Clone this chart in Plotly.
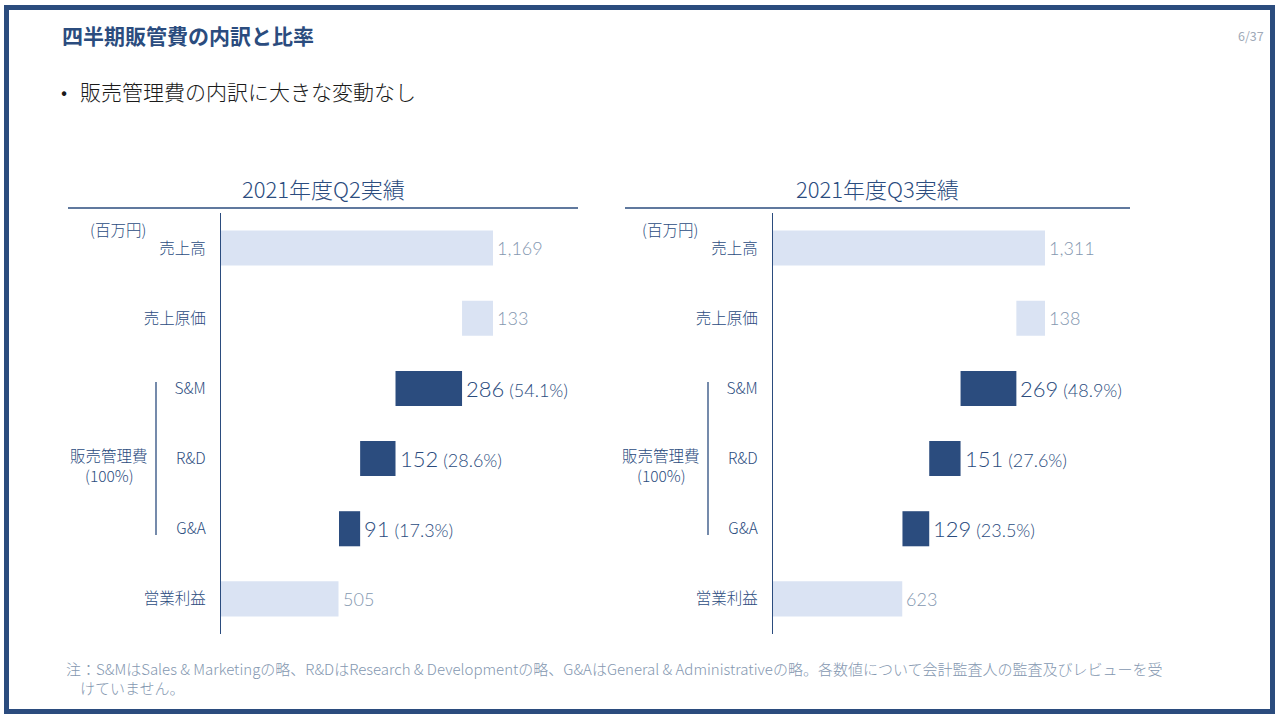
import plotly.graph_objects as go

# ---------------- data ----------------
periods = ["2021年度Q2実績", "2021年度Q3実績"]
categories = ["売上高", "売上原価", "S&M", "R&D", "G&A", "営業利益"]
q2_values = [1169, 133, 286, 152, 91, 505]
q3_values = [1311, 138, 269, 151, 129, 623]
q2_ratios = [None, None, 54.1, 28.6, 17.3, None]
q3_ratios = [None, None, 48.9, 27.6, 23.5, None]
kinds = ["total", "cost", "sga", "sga", "sga", "total"]

title_text = "四半期販管費の内訳と比率"
bullet_text = "販売管理費の内訳に大きな変動なし"
unit_text = "(百万円)"
group_text_1 = "販売管理費"
group_text_2 = "(100%)"
note_line1 = ("注：S&MはSales & Marketingの略、R&DはResearch & Developmentの略、"
              "G&AはGeneral & Administrativeの略。各数値について会計監査人の監査及びレビューを受")
note_line2 = "けていません。"
page_text = "6/37"

# ---------------- style ----------------
W, H = 1280, 720
DARK = "#2b4c7e"
LIGHT = "#dae3f3"
GRAY = "#8497b0"
FONT = "Noto Sans CJK JP"
NUMFONT = "Lato, Noto Sans CJK JP"


def px(x):
    return x / W


def py(y):
    return 1 - y / H


fig = go.Figure()

panels = [
    dict(values=q2_values, ratios=q2_ratios, x0=221, x1=578, line0=68, xa="x", ya="y"),
    dict(values=q3_values, ratios=q3_ratios, x0=773, x1=1130, line0=625, xa="x2", ya="y2"),
]
y_top, y_bot = 213, 634
annotations = []
shapes = []

for i, p in enumerate(panels):
    vals = p["values"]
    bases = []
    running = vals[0]
    for k, v in zip(kinds, vals):
        if k == "total":
            bases.append(0)
        else:
            running -= v
            bases.append(running)
    colors = [DARK if k == "sga" else LIGHT for k in kinds]
    fig.add_trace(go.Bar(
        y=categories, x=vals, base=bases, orientation="h",
        marker=dict(color=colors, line=dict(width=0)), width=0.5,
        xaxis=p["xa"], yaxis=p["ya"], showlegend=False, hoverinfo="skip",
    ))
    for cat, v, b, k, r in zip(categories, vals, bases, kinds, p["ratios"]):
        if k == "sga":
            txt = (f"<span style='font-size:22px;color:{DARK}'>{v:,}</span>"
                   f"<span style='font-size:18px;color:{DARK}'> ({r:.1f}%)</span>")
        else:
            txt = f"<span style='font-size:18px;color:{GRAY}'>{v:,}</span>"
        annotations.append(dict(
            x=b + v, y=cat, xref=p["xa"], yref=p["ya"], text=txt, showarrow=False,
            xanchor="left", yanchor="middle", xshift=2,
            font=dict(family=NUMFONT, weight=300),
        ))
    # period title and underline
    annotations.append(dict(
        x=px((p["line0"] + p["x1"]) / 2), y=py(188), xref="paper", yref="paper",
        text=periods[i], showarrow=False, xanchor="center", yanchor="middle",
        font=dict(family=FONT, size=22, color=DARK, weight=300),
    ))
    shapes.append(dict(type="line", xref="paper", yref="paper",
                       x0=px(p["line0"]), x1=px(p["x1"]), y0=py(208), y1=py(208),
                       line=dict(color=DARK, width=1.3)))
    # unit
    annotations.append(dict(
        x=px(p["x0"] - 133), y=py(229), xref="paper", yref="paper", text=unit_text,
        showarrow=False, xanchor="left", yanchor="middle",
        font=dict(family=FONT, size=15.5, color=DARK, weight=300),
    ))
    # SG&A group label + bracket
    for txt, yy in ((group_text_1, 455), (group_text_2, 475)):
        annotations.append(dict(
            x=px(p["x0"] - 112), y=py(yy), xref="paper", yref="paper", text=txt,
            showarrow=False, xanchor="center", yanchor="middle", align="center",
            font=dict(family=FONT, size=15.5, color=DARK, weight=300),
        ))
    shapes.append(dict(type="line", xref="paper", yref="paper",
                       x0=px(p["x0"] - 65), x1=px(p["x0"] - 65), y0=py(382), y1=py(535),
                       line=dict(color=DARK, width=1.3)))

    xmax = vals[0] * 1.3125
    axis_x = dict(domain=[px(p["x0"]), px(p["x1"])], range=[0, xmax], visible=False,
                  fixedrange=True)
    axis_y = dict(domain=[py(y_bot), py(y_top)], type="category",
                  categoryorder="array", categoryarray=categories,
                  autorange="reversed", showline=True, linecolor=DARK, linewidth=1.3,
                  ticks="", showgrid=False, zeroline=False, ticklabelstandoff=11,
                  tickfont=dict(family=FONT, size=15.5, color=DARK, weight=300),
                  anchor=p["xa"], fixedrange=True)
    if i == 0:
        fig.update_layout(xaxis=dict(axis_x, anchor="y"), yaxis=axis_y)
    else:
        fig.update_layout(xaxis2=dict(axis_x, anchor="y2"), yaxis2=axis_y)

# page title, bullet, page number, notes
annotations += [
    dict(x=px(60), y=py(35), xref="paper", yref="paper", text=f"<b>{title_text}</b>",
         showarrow=False, xanchor="left", yanchor="middle",
         font=dict(family=FONT, size=21, color=DARK)),
    dict(x=px(59), y=py(91), xref="paper", yref="paper", text="•",
         showarrow=False, xanchor="left", yanchor="middle",
         font=dict(family=FONT, size=18, color="#1a1a1a")),
    dict(x=px(78), y=py(91), xref="paper", yref="paper", text=bullet_text,
         showarrow=False, xanchor="left", yanchor="middle",
         font=dict(family=FONT, size=21, color="#1a1a1a", weight=300)),
    dict(x=px(1266), y=py(35), xref="paper", yref="paper", text=page_text,
         showarrow=False, xanchor="right", yanchor="middle",
         font=dict(family=FONT, size=12.5, color="#a0aab8")),
    dict(x=px(64), y=py(668), xref="paper", yref="paper", text=note_line1,
         showarrow=False, xanchor="left", yanchor="middle",
         font=dict(family=FONT, size=15, color=GRAY, weight=300)),
    dict(x=px(78), y=py(687), xref="paper", yref="paper", text=note_line2,
         showarrow=False, xanchor="left", yanchor="middle",
         font=dict(family=FONT, size=15, color=GRAY, weight=300)),
]

# slide frame
shapes.append(dict(type="rect", xref="paper", yref="paper",
                   x0=px(6.5), x1=px(1272.5), y0=py(7.5), y1=py(711.5),
                   line=dict(color=DARK, width=5), fillcolor="rgba(0,0,0,0)"))

fig.update_layout(
    width=W, height=H, margin=dict(l=0, r=0, t=0, b=0),
    paper_bgcolor="white", plot_bgcolor="white",
    annotations=annotations, shapes=shapes, bargap=0.5,
    font=dict(family=FONT),
)

fig.write_html("out.html", config={"displayModeBar": False},
               post_script="document.body.style.margin='0';document.body.style.overflow='hidden';")
